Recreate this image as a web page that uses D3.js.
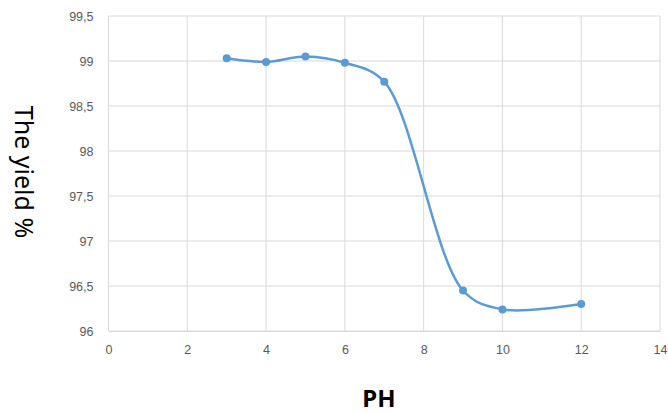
<!DOCTYPE html>
<html>
<head>
<meta charset="utf-8">
<script src="https://cdn.jsdelivr.net/npm/d3@7"></script>
<style>
  body { margin: 0; background: #fff; }
  svg { display: block; font-family: "Noto Sans", "Open Sans", sans-serif; }
</style>
</head>
<body>
<svg id="chart" width="668" height="414"></svg>
<script>
// pH values and measured yield (%)
const phValues = [3, 4, 5, 6, 7, 9, 10, 12]
const yieldValues = [99.03, 98.99, 99.05, 98.98, 98.77, 96.45, 96.24, 96.30]
const xTicks = [0, 2, 4, 6, 8, 10, 12, 14]
const yTicks = [96, 96.5, 97, 97.5, 98, 98.5, 99, 99.5]

const svg = d3.select('#chart')
const margin = { top: 16, right: 8, bottom: 83, left: 108.5 }
const width = 668 - margin.left - margin.right
const height = 414 - margin.top - margin.bottom

const chart = svg.append('g').attr('transform', `translate(${margin.left}, ${margin.top})`)

const x = d3.scaleLinear().domain([0, 14]).range([0, width])
const y = d3.scaleLinear().domain([96, 99.5]).range([height, 0])

const gridColour = '#d9d9d9'
const tickColour = '#595959'
const commaFormat = d => String(d).replace('.', ',')

// grid
chart.append('g')
    .selectAll('line')
    .data(yTicks)
    .join('line')
    .attr('x1', 0).attr('x2', width)
    .attr('y1', d => y(d)).attr('y2', d => y(d))
    .attr('stroke', gridColour)
    .attr('stroke-width', 1)

chart.append('g')
    .selectAll('line')
    .data(xTicks)
    .join('line')
    .attr('x1', d => x(d)).attr('x2', d => x(d))
    .attr('y1', 0).attr('y2', height)
    .attr('stroke', gridColour)
    .attr('stroke-width', 1)

// axes (labels only, lines come from the grid)
chart.append('g')
    .attr('transform', `translate(0, ${height})`)
    .style('font-size', '12.5px')
    .call(d3.axisBottom(x).tickValues(xTicks).tickSize(0).tickPadding(14).tickFormat(d => d))
    .call(g => {
        g.select('.domain').attr('stroke', gridColour)
        g.selectAll('text').attr('fill', tickColour).style('font-family', 'inherit')
    })

chart.append('g')
    .style('font-size', '12.5px')
    .call(d3.axisLeft(y).tickValues(yTicks).tickSize(0).tickPadding(15).tickFormat(commaFormat))
    .call(g => {
        g.select('.domain').attr('stroke', 'transparent')
        g.selectAll('text').attr('fill', tickColour).style('font-family', 'inherit')
    })

// series
const points = phValues.map((p, i) => [p, yieldValues[i]])

chart.append('path')
    .datum(points)
    .attr('fill', 'none')
    .attr('stroke', '#5b9bd5')
    .attr('stroke-width', 2.5)
    .attr('stroke-linejoin', 'round')
    .attr('d', d3.line().x(d => x(d[0])).y(d => y(d[1])).curve(d3.curveCatmullRom.alpha(0.5)))

chart.append('g')
    .selectAll('circle')
    .data(points)
    .join('circle')
    .attr('cx', d => x(d[0]))
    .attr('cy', d => y(d[1]))
    .attr('r', 4)
    .attr('fill', '#5b9bd5')

// axis titles
svg.append('text')
    .attr('transform', `translate(15, 172) rotate(90)`)
    .attr('text-anchor', 'middle')
    .style('font-size', '25px')
    .attr('fill', '#000')
    .text('The yield %')

svg.append('text')
    .attr('x', 379)
    .attr('y', 407)
    .attr('text-anchor', 'middle')
    .style('font-size', '24px')
    .style('font-weight', 'bold')
    .attr('fill', '#000')
    .text('PH')
</script>
</body>
</html>
